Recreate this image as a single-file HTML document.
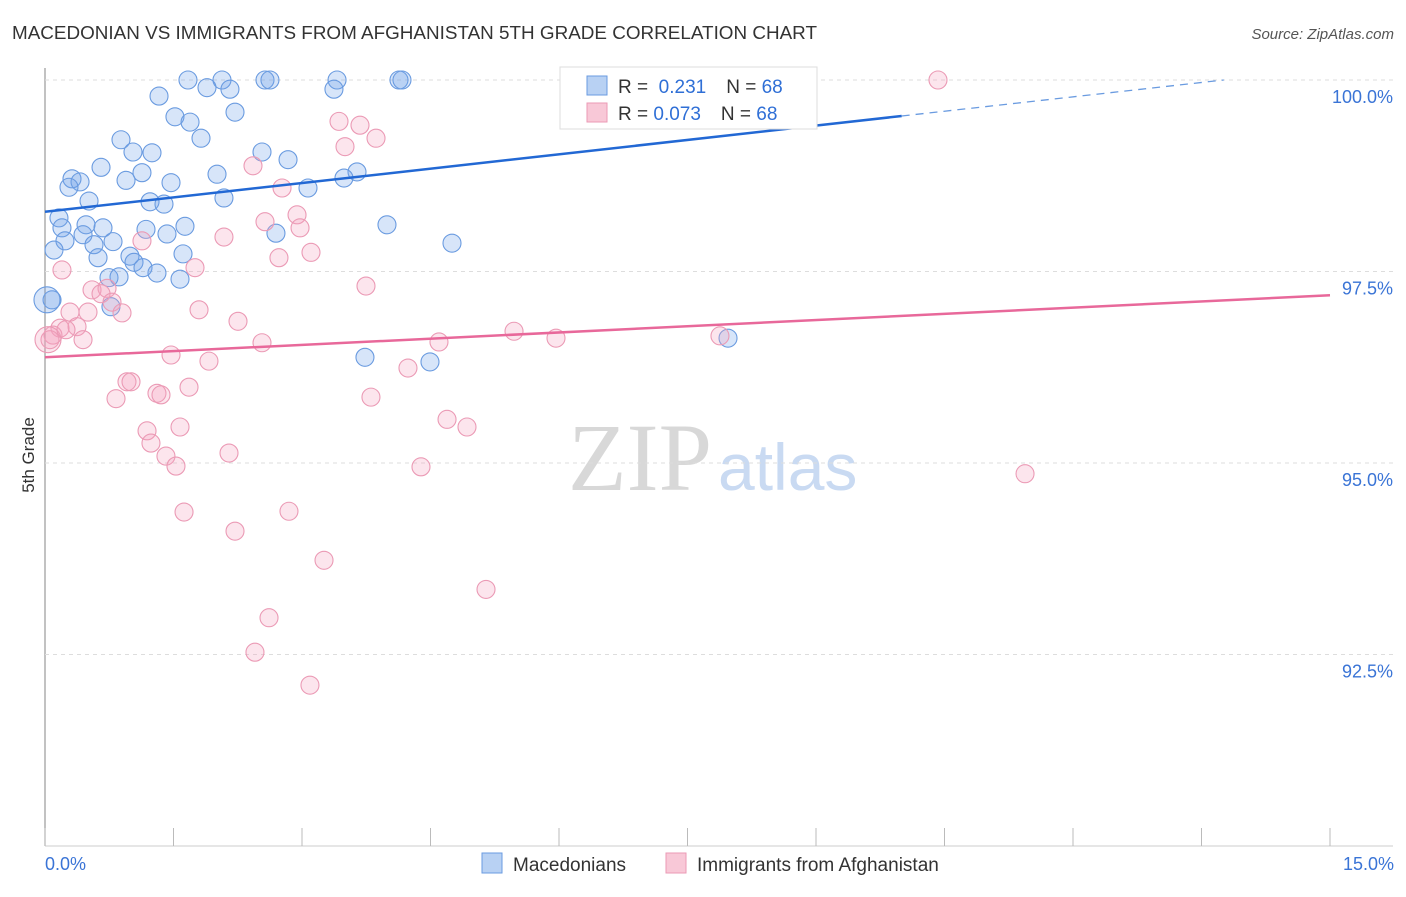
<!DOCTYPE html>
<html><head><meta charset="utf-8"><style>
body{margin:0;background:#fff;font-family:"Liberation Sans",sans-serif}
</style></head><body>
<svg id="chart" width="1406" height="892" xmlns="http://www.w3.org/2000/svg" font-family="Liberation Sans, sans-serif">
<text x="12" y="39" font-size="18" fill="#333" textLength="805" lengthAdjust="spacingAndGlyphs">MACEDONIAN VS IMMIGRANTS FROM AFGHANISTAN 5TH GRADE CORRELATION CHART</text>
<text x="1394" y="39" font-size="15" fill="#555" text-anchor="end" font-style="italic">Source: ZipAtlas.com</text>
<text x="712" y="490" font-size="96" text-anchor="end" fill="#d8d8d8" font-family="Liberation Serif, serif">ZIP</text>
<text x="718" y="490" font-size="66" fill="#c9daf2">atlas</text>
<text transform="translate(34,455) rotate(-90)" font-size="17" fill="#333" text-anchor="middle">5th Grade</text>
<g id="grid"></g><g id="pts"></g><g id="lines"></g>
<g>
<rect x="560" y="67" width="257" height="62" fill="#fff" stroke="#ddd"/>
<rect x="587" y="76" width="20" height="19" fill="#b8d1f3" stroke="#6a9be0"/>
<rect x="587" y="103" width="20" height="19" fill="#f8c8d7" stroke="#eb9ab5"/>
<text x="618" y="93" font-size="19" fill="#333">R = <tspan fill="#2f6fd6">&#160;0.231</tspan><tspan dx="20">N = </tspan><tspan fill="#2f6fd6">68</tspan></text>
<text x="618" y="120" font-size="19" fill="#333">R = <tspan fill="#2f6fd6">0.073</tspan><tspan dx="20">N = </tspan><tspan fill="#2f6fd6">68</tspan></text>
</g>
<g>
<rect x="482" y="853" width="20" height="20" fill="#b8d1f3" stroke="#6a9be0"/>
<text x="513" y="871" font-size="19" fill="#333">Macedonians</text>
<rect x="666" y="853" width="20" height="20" fill="#f8c8d7" stroke="#eb9ab5"/>
<text x="697" y="871" font-size="19" fill="#333">Immigrants from Afghanistan</text>
</g>
<text x="45" y="870" font-size="18" fill="#3a74d6">0.0%</text>
<text x="1394" y="870" font-size="18" fill="#3a74d6" text-anchor="end">15.0%</text>
</svg>
<script>
const yTicks=[100,97.5,95,92.5];
const yTickLabels=["100.0%","97.5%","95.0%","92.5%"];
const xTicks=[0,1.5,3,4.5,6,7.5,9,10.5,12,13.5,15];
const blueX=[1.669,2.066,2.568,2.626,3.409,4.132,4.167,8.194,1.891,2.159,3.373,1.331,2.218,1.517,1.693,1.821,0.887,1.027,1.249,2.533,2.837,0.654,2.008,1.132,0.315,0.409,0.28,0.946,1.471,3.642,3.49,3.07,2.089,0.514,1.226,1.389,0.163,0.479,0.677,1.179,1.634,3.992,0.198,0.444,1.424,2.696,0.233,0.105,0.572,0.794,4.751,0.619,0.992,1.611,1.039,1.144,1.307,0.747,0.864,1.576,0.082,0.023,0.77,3.735,4.494,7.973];
const blueY=[100,100,100,100,100,100,100,100,99.9,99.88,99.88,99.79,99.58,99.52,99.45,99.24,99.22,99.06,99.05,99.06,98.96,98.86,98.77,98.79,98.71,98.67,98.6,98.69,98.66,98.8,98.72,98.59,98.46,98.42,98.41,98.38,98.2,98.11,98.07,98.05,98.09,98.11,98.07,97.98,97.99,98.0,97.9,97.78,97.85,97.89,97.87,97.68,97.7,97.73,97.62,97.55,97.48,97.42,97.43,97.4,97.13,97.13,97.04,96.38,96.32,96.63];
const blueBig=[61];
const pinkX=[6.852,10.424,3.432,3.677,3.864,3.502,2.428,2.767,2.942,2.568,2.977,2.089,1.132,3.105,2.731,1.751,0.198,3.747,0.549,0.724,0.654,0.782,1.798,0.899,0.292,0.502,2.253,0.374,0.175,0.093,0.444,0.058,2.533,4.599,5.475,5.965,7.879,1.471,1.914,4.237,0.957,1.004,1.681,1.307,1.354,0.829,3.805,4.693,4.926,1.576,1.191,1.237,2.148,1.412,1.529,4.389,11.44,1.623,2.848,2.218,3.257,5.148,2.615,2.451,3.093,0.035,0.245];
const pinkY=[100,100,99.46,99.41,99.24,99.13,98.88,98.59,98.24,98.15,98.07,97.95,97.9,97.75,97.68,97.55,97.52,97.31,97.26,97.28,97.21,97.1,97.0,96.96,96.97,96.97,96.85,96.78,96.76,96.67,96.61,96.61,96.57,96.58,96.72,96.63,96.66,96.41,96.33,96.24,96.06,96.06,95.99,95.91,95.89,95.84,95.86,95.57,95.47,95.47,95.42,95.26,95.13,95.09,94.96,94.95,94.86,94.36,94.37,94.11,93.73,93.35,92.98,92.53,92.1,96.61,96.74];
const pinkBig=[65];
const blueTrend=[98.28,0.125];
const pinkTrend=[96.38,0.054];
const NS="http://www.w3.org/2000/svg";
const X=v=>45+v/15*1285, Y=v=>80+(100-v)/2.5*191.5;
function mk(tag,attrs,parent){const e=document.createElementNS(NS,tag);for(const k in attrs)e.setAttribute(k,attrs[k]);parent.appendChild(e);return e;}
const grid=document.getElementById('grid');
let ax=mk('line',{x1:45,y1:68,x2:45,y2:846,stroke:'#999','stroke-width':1.2},grid);


let bx=mk('line',{x1:45,y1:846,x2:1393,y2:846,stroke:'#ccc'},grid);


yTicks.forEach((t,i)=>{
 const g=mk('line',{x1:45,y1:Y(t),x2:1393,y2:Y(t),stroke:'#ddd','stroke-dasharray':'4,4'},grid);
 
 
 const l=mk('text',{x:1393,y:Y(t)+23,'font-size':18,fill:'#3a74d6','text-anchor':'end'},grid);
 l.textContent=yTickLabels[i];
 
 
});
xTicks.forEach(t=>{
 const k=mk('line',{x1:X(t),y1:828,x2:X(t),y2:846,stroke:'#bbb'},grid);
 
 
});
const pts=document.getElementById('pts');
blueX.forEach((v,i)=>{
 const c=mk('circle',{cx:X(v),cy:Y(blueY[i]),r:blueBig.includes(i)?13:9,fill:'rgba(110,160,235,0.28)',stroke:'#6a9be0','stroke-width':1.1},pts);
 
 
});
pinkX.forEach((v,i)=>{
 const c=mk('circle',{cx:X(v),cy:Y(pinkY[i]),r:pinkBig.includes(i)?13:9,fill:'rgba(245,160,190,0.28)',stroke:'#eb9ab5','stroke-width':1.1},pts);
 
 
});
const lines=document.getElementById('lines');
const bt=x=>blueTrend[0]+blueTrend[1]*x, pt=x=>pinkTrend[0]+pinkTrend[1]*x;
let l1=mk('line',{x1:X(0),y1:Y(bt(0)),x2:X(10),y2:Y(bt(10)),stroke:'#2268d4','stroke-width':2.5},lines);


const xEnd=(100-blueTrend[0])/blueTrend[1];
let l2=mk('line',{x1:X(10),y1:Y(bt(10)),x2:X(xEnd),y2:Y(100),stroke:'#6a9be0','stroke-width':1.3,'stroke-dasharray':'8,6'},lines);


let l3=mk('line',{x1:X(0),y1:Y(pt(0)),x2:X(15),y2:Y(pt(15)),stroke:'#e8689a','stroke-width':2.5},lines);


</script>
</body></html>
